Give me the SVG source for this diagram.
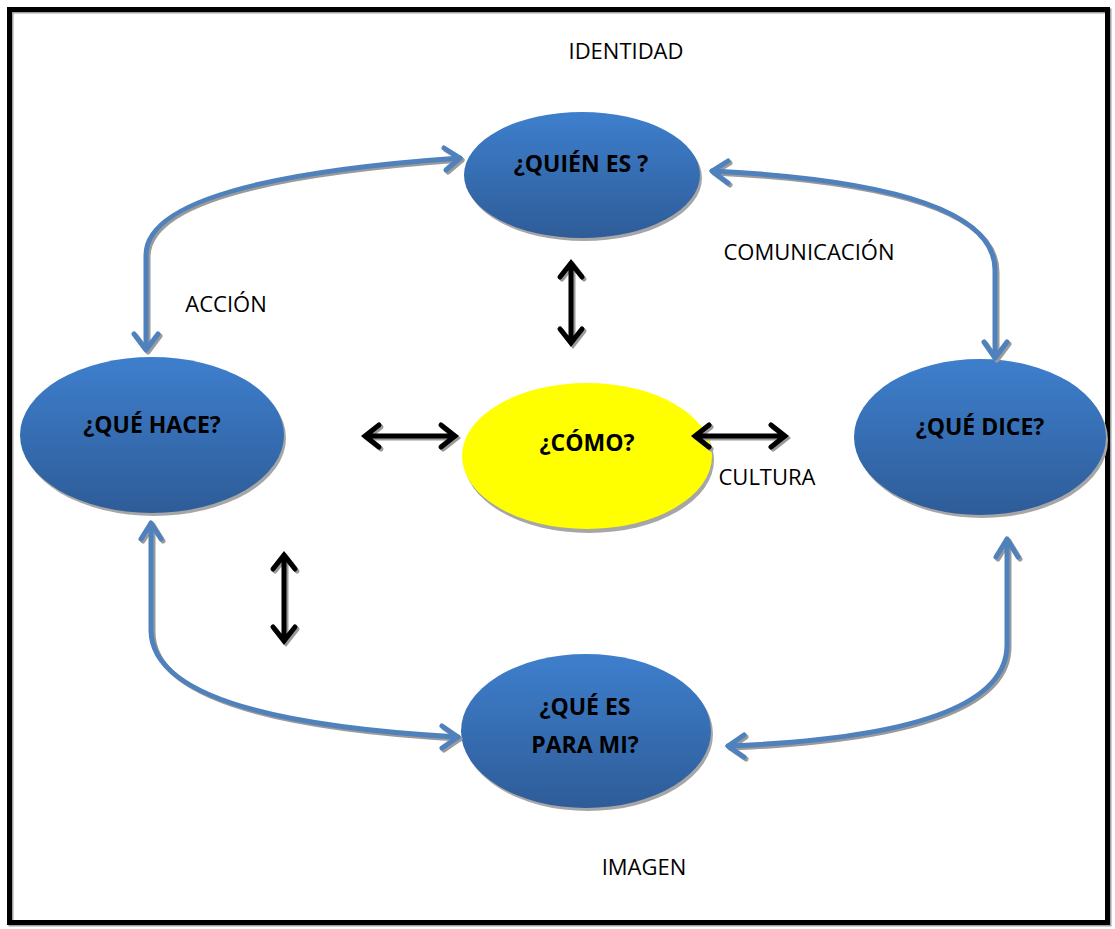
<svg xmlns="http://www.w3.org/2000/svg" width="1115" height="929" viewBox="0 0 1115 929">
  <style>
    .node-title { font-family: "Open Sans", "Liberation Sans", sans-serif; font-weight: bold; font-size: 23px; fill: #000; text-anchor: middle; }
    .label { font-family: "Open Sans", "Liberation Sans", sans-serif; font-size: 22px; fill: #000; text-anchor: middle; }
    .link { fill: none; stroke: #4f81bd; stroke-width: 5; stroke-linecap: round; stroke-linejoin: round; }
    .link-shadow { fill: none; stroke: #9a9a9a; stroke-width: 5; stroke-linecap: round; stroke-linejoin: round; }
    .dbl { fill: none; stroke: #000; stroke-width: 5; stroke-linecap: round; stroke-linejoin: miter; }
    .dbl-shadow { fill: none; stroke: #9a9a9a; stroke-width: 5; stroke-linecap: round; }
    .shadow { fill: #a6a6a6; }
  </style>
  <defs>
    <linearGradient id="blueFill" x1="0" y1="0" x2="0" y2="1">
      <stop offset="0" stop-color="#3e7fcd"/>
      <stop offset="1" stop-color="#2e5c98"/>
    </linearGradient>
  </defs>

  <rect width="1115" height="929" fill="#fff"/>
  <!-- page frame -->
  <rect x="11" y="11" width="1098" height="913" fill="none" stroke="#a0a0a0" stroke-width="5"/>
  <rect x="9.5" y="9.5" width="1098" height="913" fill="none" stroke="#000" stroke-width="5"/>

  <!-- nodes -->
  <g id="node-quien">
    <ellipse class="shadow" cx="584" cy="178" rx="118" ry="63"/>
    <ellipse cx="582" cy="175" rx="118" ry="63" fill="url(#blueFill)"/>
    <text class="node-title" x="581" y="172">¿QUIÉN ES ?</text>
  </g>

  <g id="node-hace">
    <ellipse class="shadow" cx="154" cy="438" rx="132" ry="78"/>
    <ellipse cx="152" cy="435" rx="132" ry="78" fill="url(#blueFill)"/>
    <text class="node-title" x="152" y="433">¿QUÉ HACE?</text>
  </g>

  <g id="node-como">
    <ellipse class="shadow" cx="589" cy="460" rx="125" ry="73"/>
    <ellipse cx="587" cy="456" rx="125" ry="73" fill="#ffff00"/>
    <text class="node-title" x="587" y="451">¿CÓMO?</text>
  </g>

  <g id="node-dice">
    <ellipse class="shadow" cx="982" cy="440" rx="126" ry="78"/>
    <ellipse cx="980" cy="437" rx="126" ry="78" fill="url(#blueFill)"/>
    <text class="node-title" x="980" y="435">¿QUÉ DICE?</text>
  </g>

  <g id="node-para-mi">
    <ellipse class="shadow" cx="588" cy="734" rx="125" ry="77"/>
    <ellipse cx="586" cy="731" rx="125" ry="77" fill="url(#blueFill)"/>
    <text class="node-title" x="585" y="715">¿QUÉ ES</text>
    <text class="node-title" x="585" y="753">PARA MI?</text>
  </g>

  <!-- connectors -->
  <g id="connectors">
    <!-- ACCIÓN: QUIÉN ES <-> QUÉ HACE -->
    <g transform="translate(2,2)">
      <path class="link-shadow" d="M146,348 L146,255 Q146,180 460,158"/>
      <path class="link-shadow" d="M134,334 L146,350 L158,334"/>
      <path class="link-shadow" d="M444,148 L460,158 L446,170"/>
    </g>
    <path class="link" d="M146,348 L146,255 Q146,180 460,158"/>
    <path class="link" d="M134,334 L146,350 L158,334"/>
    <path class="link" d="M444,148 L460,158 L446,170"/>

    <!-- COMUNICACIÓN: QUIÉN ES <-> QUÉ DICE -->
    <g transform="translate(2,2)">
      <path class="link-shadow" d="M712,171 Q995,185 995,270 L995,357"/>
      <path class="link-shadow" d="M728,161 L712,171 L728,183"/>
      <path class="link-shadow" d="M984,342 L995,358 L1007,342"/>
    </g>
    <path class="link" d="M712,171 Q995,185 995,270 L995,357"/>
    <path class="link" d="M728,161 L712,171 L728,183"/>
    <path class="link" d="M984,342 L995,358 L1007,342"/>

    <!-- QUÉ HACE <-> QUÉ ES PARA MI -->
    <g transform="translate(2,2)">
      <path class="link-shadow" d="M151,524 L151,630 Q151,720 458,737"/>
      <path class="link-shadow" d="M141,539 L151,523 L161,539"/>
      <path class="link-shadow" d="M442,726 L458,737 L442,748"/>
    </g>
    <path class="link" d="M151,524 L151,630 Q151,720 458,737"/>
    <path class="link" d="M141,539 L151,523 L161,539"/>
    <path class="link" d="M442,726 L458,737 L442,748"/>

    <!-- QUÉ DICE <-> QUÉ ES PARA MI -->
    <g transform="translate(2,2)">
      <path class="link-shadow" d="M1007,540 L1007,645 Q1007,735 728,746"/>
      <path class="link-shadow" d="M996,557 L1007,539 L1018,557"/>
      <path class="link-shadow" d="M744,735 L728,746 L744,757"/>
    </g>
    <path class="link" d="M1007,540 L1007,645 Q1007,735 728,746"/>
    <path class="link" d="M996,557 L1007,539 L1018,557"/>
    <path class="link" d="M744,735 L728,746 L744,757"/>

    <!-- black double arrows -->
    <g transform="translate(2,2)">
      <path class="dbl-shadow" d="M571,264 L571,342 M560,277 L571,263 L582,277 M560,329 L571,343 L582,329"/>
      <path class="dbl-shadow" d="M365,436 L455,436 M379,425 L365,436 L379,447 M441,425 L455,436 L441,447"/>
      <path class="dbl-shadow" d="M695,436 L785,436 M709,425 L695,436 L709,447 M771,425 L785,436 L771,447"/>
      <path class="dbl-shadow" d="M284,555 L284,641 M273,569 L284,555 L295,569 M273,627 L284,641 L295,627"/>
    </g>
    <path class="dbl" d="M571,264 L571,342 M560,277 L571,263 L582,277 M560,329 L571,343 L582,329"/>
    <path class="dbl" d="M365,436 L455,436 M379,425 L365,436 L379,447 M441,425 L455,436 L441,447"/>
    <path class="dbl" d="M695,436 L785,436 M709,425 L695,436 L709,447 M771,425 L785,436 L771,447"/>
    <path class="dbl" d="M284,555 L284,641 M273,569 L284,555 L295,569 M273,627 L284,641 L295,627"/>
  </g>

  <!-- edge labels -->
  <g id="labels">
    <text class="label" x="626" y="59">IDENTIDAD</text>
    <text class="label" x="809" y="260">COMUNICACIÓN</text>
    <text class="label" x="226" y="312">ACCIÓN</text>
    <text class="label" x="767" y="485">CULTURA</text>
    <text class="label" x="644" y="875">IMAGEN</text>
  </g>
</svg>
